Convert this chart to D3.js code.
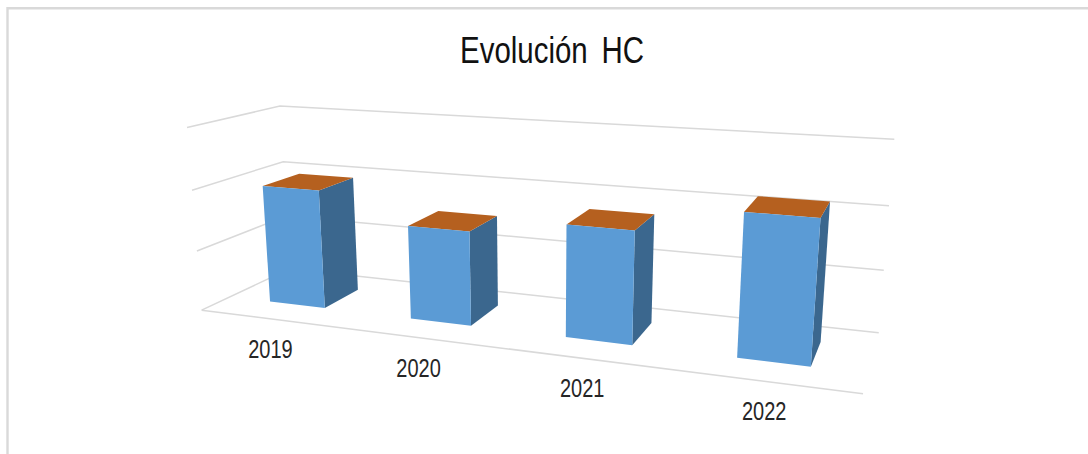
<!DOCTYPE html>
<html><head><meta charset="utf-8">
<script src="https://cdnjs.cloudflare.com/ajax/libs/d3/7.8.5/d3.min.js"></script>
<style>html,body{margin:0;padding:0;background:#fff}svg{display:block}</style>
</head><body><svg id="c" width="1088" height="454"></svg>
<script>
const categories = ["2019","2020","2021","2022"];
const values = [1.97,1.52,1.76,2.16];
const gridTicks = [0,1,2,3];
const chartTitle = "Evolución HC";

// Perspective calibration of the 3D plot box: [u, v, w, screenX, screenY]
const calibration = [
 [0,0,0,202.5,310],[1,0,0,863,394],[0,0,1,289,269],[1,0,1,879,332.7],
 [0,1/3,0,196.7,251],[0,2/3,0,191.7,190],[0,1,0,186.7,127.7],
 [0,2/3,1,283,161.7],[0,1,1,280.7,106],
 [1,1/3,1,883.5,270],[1,2/3,1,889,206],[1,1,1,894.3,139.3]
];
function solveH(pts){
  const n=11,A=d3.range(n).map(()=>new Array(n+1).fill(0));
  const add=(r,b)=>{for(let i=0;i<n;i++){for(let j=0;j<n;j++)A[i][j]+=r[i]*r[j];A[i][n]+=r[i]*b;}};
  pts.forEach(([u,v,w,x,y])=>{
    add([u,v,w,1,0,0,0,0,-x*u,-x*v,-x*w],x);
    add([0,0,0,0,u,v,w,1,-y*u,-y*v,-y*w],y);
  });
  for(let c=0;c<n;c++){
    let p=c;for(let r=c+1;r<n;r++)if(Math.abs(A[r][c])>Math.abs(A[p][c]))p=r;
    [A[c],A[p]]=[A[p],A[c]];
    for(let r=0;r<n;r++)if(r!==c){const f=A[r][c]/A[c][c];for(let k=c;k<=n;k++)A[r][k]-=f*A[c][k];}
  }
  return A.map((r,i)=>r[n]/r[i]);
}
const H=solveH(calibration);
const project=(u,v,w)=>{const d=H[8]*u+H[9]*v+H[10]*w+1;
  return [(H[0]*u+H[1]*v+H[2]*w+H[3])/d,(H[4]*u+H[5]*v+H[6]*w+H[7])/d];};

const xBand=d3.scaleBand().domain(categories).range([0,1]).paddingInner(0.6).paddingOuter(0.3);
const yScale=d3.scaleLinear().domain([0,3]).range([0,1]);
const depth=d3.scaleLinear().domain([0,1]).range([0.3,0.72]);

const svg=d3.select("#c");
svg.append("path").attr("d","M7.5,454V8.3H1088").attr("fill","none").attr("stroke","#D9D9D9").attr("stroke-width",2.4);

const line=d3.line();
const g=svg.append("g").attr("fill","none").attr("stroke","#D9D9D9").attr("stroke-width",1.5);
gridTicks.forEach(t=>{const v=yScale(t);
  g.append("path").attr("d",line([project(0,v,0),project(0,v,1),project(1,v,1)]));
});
g.append("path").attr("d",line([project(0,0,0),project(1,0,0)]));

const poly=pts=>line(pts)+"Z";
const bars=svg.selectAll("g.bar").data(categories.map((c,i)=>({c,val:values[i]}))).join("g").attr("class","bar");
bars.each(function(d){
  const a=xBand(d.c),b=a+xBand.bandwidth(),v=yScale(d.val),w0=depth(0),w1=depth(1),s=d3.select(this);
  s.append("path").attr("fill","#3B678E").attr("d",poly([project(b,0,w0),project(b,0,w1),project(b,v,w1),project(b,v,w0)]));
  s.append("path").attr("fill","#B5601F").attr("d",poly([project(a,v,w0),project(b,v,w0),project(b,v,w1),project(a,v,w1)]));
  s.append("path").attr("fill","#5B9BD5").attr("d",poly([project(a,0,w0),project(b,0,w0),project(b,v,w0),project(a,v,w0)]));
});

const labelFont="'Liberation Sans',Arial,sans-serif";
categories.forEach(c=>{
  const [x,y]=project(xBand(c)+xBand.bandwidth()/2,0,0);
  svg.append("text").attr("transform",`translate(${x},${y+39}) scale(0.8,1)`)
    .attr("text-anchor","middle").attr("font-family",labelFont).attr("font-size",25).attr("fill","#262626").text(c);
});
svg.append("text").attr("transform","translate(552,63) scale(0.796,1)").attr("text-anchor","middle")
  .attr("font-family",labelFont).attr("font-size",37).attr("word-spacing",7).attr("fill","#111").text(chartTitle);
</script></body></html>
